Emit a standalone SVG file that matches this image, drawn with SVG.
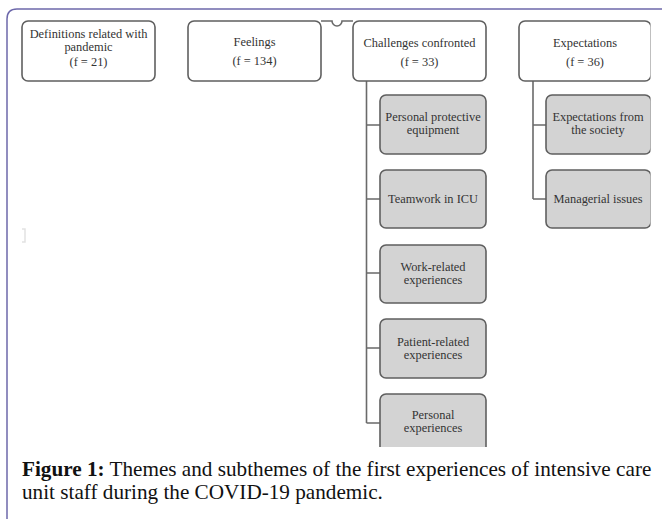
<svg xmlns="http://www.w3.org/2000/svg" width="662" height="519" viewBox="0 0 662 519">
<style>
.frame{fill:none;stroke:#6d68ab;stroke-width:1.5}
.top{fill:#ffffff;stroke:#5f5f5f;stroke-width:1.6}
.sub{fill:#d3d3d3;stroke:#5f5f5f;stroke-width:1.6}
.conn{fill:none;stroke:#6a6a6a;stroke-width:1.6}
.t{font-family:"Liberation Serif","Times New Roman",serif;font-size:12.4px;fill:#333333;text-anchor:middle}
.cap{font-family:"Liberation Serif","Times New Roman",serif;font-size:21.2px;fill:#111111}
</style>
<defs>
<clipPath id="clip"><rect x="0" y="15" width="650.5" height="432"/></clipPath>
</defs>
<rect x="0" y="0" width="662" height="519" fill="#ffffff"/>
<path class="frame" d="M7,519 V19 Q7,9 17,9 H662"/>
<g clip-path="url(#clip)">
<g id="connectors">
<path class="conn" d="M366.5,81 V423 M366.5,125 H380 M366.5,199 H380 M366.5,273 H380 M366.5,348 H380 M366.5,423 H380"/>
<path class="conn" d="M533,81 V199 M533,125 H546 M533,199 H546"/>
<path class="conn" d="M321,21 H332 A5,5 0 0 0 342,21 H353"/>
</g>
<g id="n-definitions">
<rect class="top" x="22" y="21" width="133" height="60" rx="6"/>
<text class="t" x="88.5" y="38">Definitions related with</text>
<text class="t" x="88.5" y="51">pandemic</text>
<text class="t" x="88.5" y="66">(f = 21)</text>
</g>
<g id="n-feelings">
<rect class="top" x="188" y="21" width="133" height="60" rx="6"/>
<text class="t" x="254.5" y="46">Feelings</text>
<text class="t" x="254.5" y="64.5">(f = 134)</text>
</g>
<g id="n-challenges">
<rect class="top" x="353" y="21" width="133" height="60" rx="6"/>
<text class="t" x="419.5" y="47">Challenges confronted</text>
<text class="t" x="419.5" y="65.5">(f = 33)</text>
</g>
<g id="n-expectations">
<rect class="top" x="519" y="21" width="132" height="60" rx="6"/>
<text class="t" x="585" y="47">Expectations</text>
<text class="t" x="585" y="65.5">(f = 36)</text>
</g>
<g id="n-ppe">
<rect class="sub" x="380" y="95" width="106" height="59" rx="6"/>
<text class="t" x="433" y="121">Personal protective</text>
<text class="t" x="433" y="134">equipment</text>
</g>
<g id="n-teamwork">
<rect class="sub" x="380" y="170" width="106" height="58" rx="6"/>
<text class="t" x="433" y="203">Teamwork in ICU</text>
</g>
<g id="n-work">
<rect class="sub" x="380" y="245" width="106" height="58" rx="6"/>
<text class="t" x="433" y="271">Work-related</text>
<text class="t" x="433" y="284">experiences</text>
</g>
<g id="n-patient">
<rect class="sub" x="380" y="319" width="106" height="59" rx="6"/>
<text class="t" x="433" y="346">Patient-related</text>
<text class="t" x="433" y="359">experiences</text>
</g>
<g id="n-personal">
<rect class="sub" x="380" y="394" width="106" height="59" rx="6"/>
<text class="t" x="433" y="419">Personal</text>
<text class="t" x="433" y="432">experiences</text>
</g>
<g id="n-society">
<rect class="sub" x="546" y="95" width="105" height="59" rx="6"/>
<text class="t" x="598" y="121">Expectations from</text>
<text class="t" x="598" y="134">the society</text>
</g>
<g id="n-managerial">
<rect class="sub" x="546" y="170" width="105" height="58" rx="6"/>
<text class="t" x="598" y="203">Managerial issues</text>
</g>
</g>
<path d="M22,229 H25 V242 H22" fill="none" stroke="#e2e2e2" stroke-width="1.5"/>
<text class="cap" x="22" y="476"><tspan font-weight="bold">Figure 1:</tspan> Themes and subthemes of the first experiences of intensive care</text>
<text class="cap" x="22" y="499">unit staff during the COVID-19 pandemic.</text>
</svg>
